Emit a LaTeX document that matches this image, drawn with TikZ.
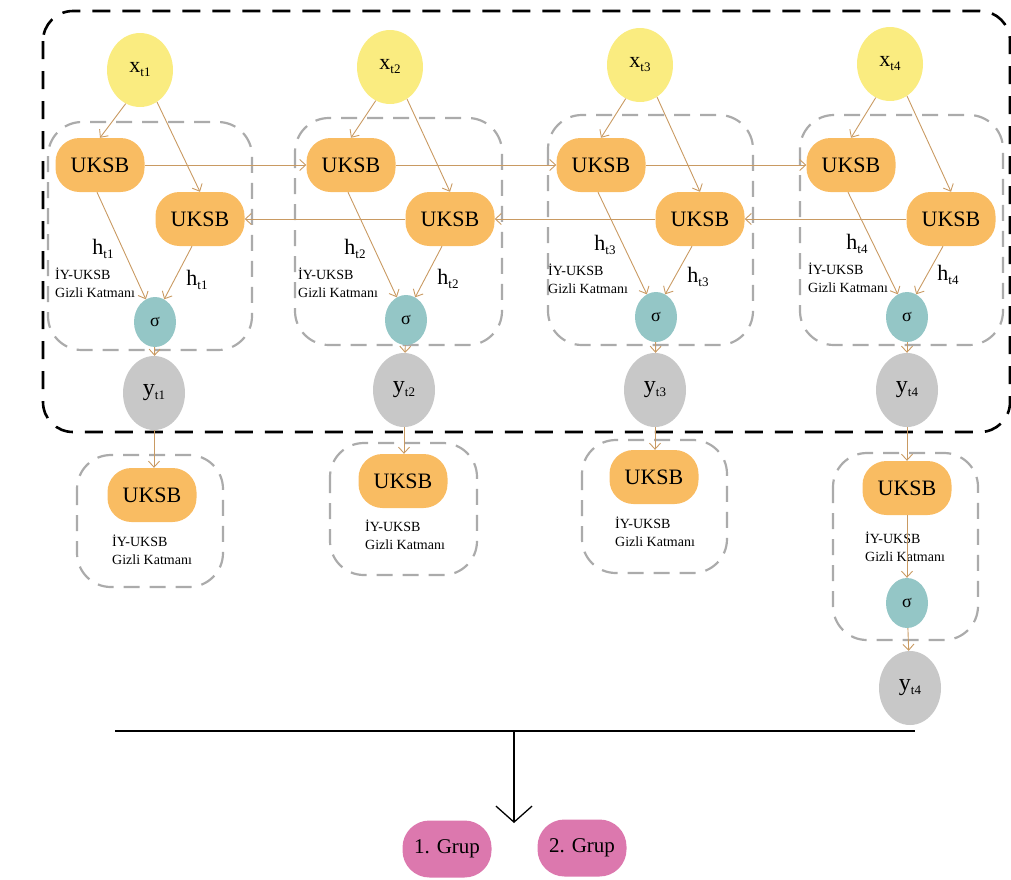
\documentclass[tikz,border=0pt]{standalone}
\usepackage{fontspec}
\setmainfont{Liberation Serif}
\usetikzlibrary{shapes.geometric,arrows.meta}
\definecolor{cyel}{HTML}{FAEC80}
\definecolor{corg}{HTML}{F9BC62}
\definecolor{cteal}{HTML}{94C6C6}
\definecolor{cgry}{HTML}{C8C8C8}
\definecolor{cpink}{HTML}{DC78AE}
\definecolor{carr}{HTML}{C99A62}
\definecolor{cbox}{HTML}{ABABAB}
\newcommand{\mysub}[1]{\raisebox{-4pt}{\fontsize{13}{13}\selectfont #1}}
\begin{document}
\begin{tikzpicture}[x=1pt,y=-1pt,
  xnode/.style={ellipse, fill=cyel, minimum width=66pt, minimum height=74pt, inner sep=0pt, font=\fontsize{22}{22}\selectfont},
  ynode/.style={ellipse, fill=cgry, minimum width=62pt, minimum height=74pt, inner sep=0pt, font=\fontsize{24}{24}\selectfont},
  signode/.style={ellipse, fill=cteal, minimum width=42pt, minimum height=50pt, inner sep=0pt, font=\fontsize{18}{18}\selectfont},
  uksb/.style={rectangle, rounded corners=24pt, fill=corg, minimum width=89pt, minimum height=54pt, inner sep=0pt, font=\fontsize{22}{22}\selectfont},
  grp/.style={rectangle, rounded corners=27pt, fill=cpink, minimum width=89pt, minimum height=57pt, inner sep=0pt, font=\fontsize{21}{21}\selectfont},
  arr/.style={draw=carr, line width=0.9pt, -{Straight Barb[length=6pt,width=11pt]}},
  gbox/.style={draw=cbox, line width=2.2pt, dash pattern=on 16pt off 10pt, rounded corners=34pt},
  bigbox/.style={draw=black, line width=2.6pt, dash pattern=on 18pt off 12pt, rounded corners=30pt},
  hlab/.style={font=\fontsize{22}{22}\selectfont, inner sep=0pt},
  layer/.style={font=\fontsize{14}{18}\selectfont, align=left, anchor=north west, inner sep=0pt},
]
\useasboundingbox (0,0) rectangle (1011,879);

% dashed boxes
\draw[bigbox] (43,11) rectangle (1010,432);
\draw[gbox] (48,122) rectangle (252,350);
\draw[gbox] (295,118) rectangle (502,345);
\draw[gbox] (548,115) rectangle (753,345);
\draw[gbox] (800,115) rectangle (1003,345);
\draw[gbox] (77,455) rectangle (223,587);
\draw[gbox] (330,443) rectangle (477,575);
\draw[gbox] (582,440) rectangle (727,573);
\draw[gbox] (833,453) rectangle (978,640);

% column 1
\node[xnode] (x1) at (140,70) {x\mysub{t1}};
\node[uksb] (ua1) at (100,165) {UKSB};
\node[uksb] (ub1) at (200,219) {UKSB};
\node[signode] (s1) at (155,322) {σ};
\node[ynode] (y1) at (154,393) {y\mysub{t1}};
% column 2
\node[xnode] (x2) at (390,67) {x\mysub{t2}};
\node[uksb] (ua2) at (351,165) {UKSB};
\node[uksb] (ub2) at (450,219) {UKSB};
\node[signode] (s2) at (406,320) {σ};
\node[ynode] (y2) at (404,390) {y\mysub{t2}};
% column 3
\node[xnode] (x3) at (640,65) {x\mysub{t3}};
\node[uksb] (ua3) at (601,165) {UKSB};
\node[uksb] (ub3) at (700,219) {UKSB};
\node[signode] (s3) at (656,317) {σ};
\node[ynode] (y3) at (655,390) {y\mysub{t3}};
% column 4
\node[xnode] (x4) at (890,64) {x\mysub{t4}};
\node[uksb] (ua4) at (851,165) {UKSB};
\node[uksb] (ub4) at (951,219) {UKSB};
\node[signode] (s4) at (907,317) {σ};
\node[ynode] (y4) at (907,390) {y\mysub{t4}};

% h labels and layer labels
\node[hlab] (h1a) at (103,249) {h\mysub{t1}};
\node[hlab] (h1b) at (197,280) {h\mysub{t1}};
\node[hlab] (h2a) at (355,249) {h\mysub{t2}};
\node[hlab] (h2b) at (448,279) {h\mysub{t2}};
\node[hlab] (h3a) at (605,245) {h\mysub{t3}};
\node[hlab] (h3b) at (698,277) {h\mysub{t3}};
\node[hlab] (h4a) at (857,244) {h\mysub{t4}};
\node[hlab] (h4b) at (948,275) {h\mysub{t4}};
\node[layer] (l1) at (55,268) {İY-UKSB\\Gizli Katmanı};
\node[layer] (l2) at (298,268) {İY-UKSB\\Gizli Katmanı};
\node[layer] (l3) at (548,264) {İY-UKSB\\Gizli Katmanı};
\node[layer] (l4) at (808,263) {İY-UKSB\\Gizli Katmanı};

% lower row
\node[uksb] (bu1) at (152,495) {UKSB};
\node[uksb] (bu2) at (403,481) {UKSB};
\node[uksb] (bu3) at (654,477) {UKSB};
\node[uksb] (bu4) at (907,488) {UKSB};
\node[layer] (m1) at (112,535) {İY-UKSB\\Gizli Katmanı};
\node[layer] (m2) at (365,520) {İY-UKSB\\Gizli Katmanı};
\node[layer] (m3) at (615,517) {İY-UKSB\\Gizli Katmanı};
\node[layer] (m4) at (865,532) {İY-UKSB\\Gizli Katmanı};
\node[signode] (s5) at (907,603) {σ};
\node[ynode] (y5) at (910,688) {y\mysub{t4}};

% groups
\node[grp] (g1) at (447,849) {1. Grup};
\node[grp] (g2) at (582,848) {2. Grup};

% arrows in columns
\foreach \i in {1,2,3,4}{
  \draw[arr] (x\i.-113) -- (ua\i.north);
  \draw[arr] (x\i.-62) -- (ub\i.north);
  \draw[arr] ([xshift=-3pt]ua\i.south) -- (s\i.112);
  \draw[arr] ([xshift=-8pt]ub\i.south) -- (s\i.68);
  \draw[arr] (s\i) -- (y\i);
}
% recurrent arrows
\draw[arr] (ua1) -- (ua2);
\draw[arr] (ua2) -- (ua3);
\draw[arr] (ua3) -- (ua4);
\draw[arr] (ub4) -- (ub3);
\draw[arr] (ub3) -- (ub2);
\draw[arr] (ub2) -- (ub1);
% lower arrows
\draw[arr] (y1) -- (y1 |- bu1.north);
\draw[arr] (y2) -- (y2 |- bu2.north);
\draw[arr] (y3) -- (y3 |- bu3.north);
\draw[arr] (y4) -- (bu4);
\draw[arr] (bu4) -- (s5);
\draw[arr] (s5) -- (y5);

% output line
\coordinate (lA) at (115,731);
\coordinate (lB) at (915,731);
\coordinate (lM) at (514,731);
\coordinate (lE) at (514,823);
\draw[line width=1.3pt] (lA) -- (lB);
\draw[line width=1.3pt, -{Straight Barb[length=16pt,width=36pt]}] (lM) -- (lE);
\end{tikzpicture}
\end{document}
